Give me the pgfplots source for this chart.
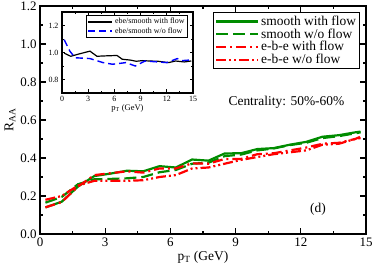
\documentclass[border=0pt]{standalone}
\usepackage{fontspec}
\setmainfont{Liberation Serif}
\usepackage{pgfplots}
\pgfplotsset{compat=1.18}
\definecolor{dgreen}{RGB}{0,140,0}
\begin{document}
\begin{tikzpicture}[x=1bp,y=1bp]
\begin{axis}[name=main, at={(0bp,0bp)}, anchor=south west, scale only axis,
  width=326bp, height=228bp,
  xmin=0, xmax=15, ymin=0, ymax=1.2,
  xtick={0,3,6,9,12,15}, minor x tick num=1,
  ytick={0,0.2,0.4,0.6,0.8,1.0,1.2}, minor y tick num=1,
  tick align=inside, major tick length=6bp, minor tick length=3.5bp,
  axis line style={line width=1.6bp},
  every tick/.style={line width=1.2bp, black},
  tick label style={font=\fontsize{13}{15}\selectfont},
  /pgf/number format/assume math mode=true,
  yticklabel style={/pgf/number format/.cd, fixed, fixed zerofill, precision=1},
  xlabel={p\textsubscript{T} (GeV)},
  ylabel={R\textsubscript{AA}},
  label style={font=\fontsize{13.5}{15}\selectfont},
  xlabel style={yshift=2bp},
  ylabel style={yshift=-2bp},
  legend style={at={(0.982,0.974)}, anchor=north east, draw=black, line width=1.2bp,
    font=\fontsize{13.5}{14}\selectfont, row sep=-2.2bp, inner sep=1.5bp},
  legend cell align=left,
  legend image code/.code={\draw[#1] (0bp,0bp) -- (42bp,0bp);},
]
\addplot[dgreen, line width=2.2bp] coordinates {
(0.25,0.140) (1.0,0.170) (1.75,0.250) (2.5,0.305) (3.25,0.318) (4.0,0.333) (4.75,0.330)
(5.5,0.357) (6.25,0.350) (7.0,0.392) (7.75,0.386) (8.5,0.424) (9.25,0.425) (10.0,0.447)
(10.75,0.452) (11.5,0.470) (12.25,0.485) (13.0,0.512) (13.75,0.520) (14.5,0.535) (14.75,0.539)};
\addlegendentry{smooth with flow}
\addplot[dgreen, line width=2.2bp, dash pattern=on 12bp off 5bp] coordinates {
(0.25,0.165) (1.0,0.195) (1.75,0.262) (2.5,0.288) (3.25,0.290) (4.0,0.293) (4.75,0.300)
(5.5,0.325) (6.25,0.337) (7.0,0.370) (7.75,0.375) (8.5,0.410) (9.25,0.418) (10.0,0.440)
(10.75,0.450) (11.5,0.468) (12.25,0.480) (13.0,0.505) (13.75,0.515) (14.5,0.530) (14.75,0.535)};
\addlegendentry{smooth w/o flow}
\addplot[red, line width=2.2bp, dash pattern=on 10bp off 4bp on 2bp off 4bp] coordinates {
(0.25,0.140) (1.0,0.168) (1.75,0.250) (2.5,0.310) (3.25,0.320) (4.0,0.330) (4.75,0.323)
(5.5,0.345) (6.25,0.345) (7.0,0.372) (7.75,0.370) (8.5,0.395) (9.25,0.395) (10.0,0.420)
(10.75,0.425) (11.5,0.440) (12.25,0.455) (13.0,0.475) (13.75,0.480) (14.5,0.500) (14.75,0.512)};
\addlegendentry{e-b-e with flow}
\addplot[red, line width=2.2bp, dash pattern=on 10bp off 3bp on 2bp off 3bp on 2bp off 3bp] coordinates {
(0.25,0.180) (1.0,0.200) (1.75,0.255) (2.5,0.280) (3.25,0.280) (4.0,0.280) (4.75,0.283)
(5.5,0.300) (6.25,0.310) (7.0,0.345) (7.75,0.350) (8.5,0.370) (9.25,0.390) (10.0,0.405)
(10.75,0.420) (11.5,0.430) (12.25,0.440) (13.0,0.470) (13.75,0.475) (14.5,0.500) (14.75,0.505)};
\addlegendentry{e-b-e w/o flow}
\node[font=\fontsize{13.5}{15}\selectfont] at (rel axis cs:0.756,0.579) {Centrality: 50\%-60\%};
\node[font=\fontsize{13.5}{15}\selectfont] at (rel axis cs:0.853,0.110) {(d)};
\end{axis}
\begin{axis}[name=inset, at={(22bp,141bp)}, anchor=south west, scale only axis,
  width=131bp, height=81bp,
  axis background/.style={fill=white},
  xmin=0, xmax=15, ymin=0.7, ymax=1.3,
  xtick={0,3,6,9,12,15}, minor x tick num=1,
  ytick={0.8,1.0,1.2}, minor y tick num=1,
  tick align=inside, major tick length=3.5bp, minor tick length=2bp,
  axis line style={line width=1.2bp},
  every tick/.style={line width=0.9bp, black},
  tick label style={font=\fontsize{8}{9}\selectfont},
  /pgf/number format/assume math mode=true,
  yticklabel style={/pgf/number format/.cd, fixed, fixed zerofill, precision=1},
  xlabel={p\textsubscript{T} (GeV)},
  xlabel style={font=\fontsize{8.5}{9}\selectfont, yshift=4bp},
  legend style={at={(0.962,0.963)}, anchor=north east, draw=black, line width=0.8bp,
    font=\fontsize{8}{9}\selectfont, row sep=-2bp, inner sep=1bp},
  legend cell align=left,
  legend image code/.code={\draw[#1] (0bp,0bp) -- (24bp,0bp);},
]
\addplot[black, line width=1.2bp] coordinates {
(0.25,0.995) (1.0,0.972) (2.0,0.990) (3.2,1.010) (4.0,0.972) (5.0,0.975) (6.3,0.978)
(6.9,0.950) (7.8,0.944) (8.5,0.935) (9.2,0.940) (10.0,0.937) (11.0,0.935) (12.2,0.925)
(13.0,0.937) (14.0,0.930) (14.8,0.937)};
\addlegendentry{ebe/smooth with flow}
\addplot[blue, line width=1.4bp, dash pattern=on 7bp off 4bp] coordinates {
(0.25,1.095) (0.9,1.010) (1.5,0.961) (3.2,0.955) (4.7,0.925) (5.8,0.913) (7.3,0.925)
(8.4,0.900) (9.5,0.937) (11.0,0.930) (12.0,0.925) (13.2,0.955) (13.8,0.940) (14.8,0.945)};
\addlegendentry{ebe/smooth w/o flow}
\end{axis}
\pgfresetboundingbox
\useasboundingbox (-40bp,-33bp) rectangle (334bp,234bp);
\end{tikzpicture}
\end{document}
